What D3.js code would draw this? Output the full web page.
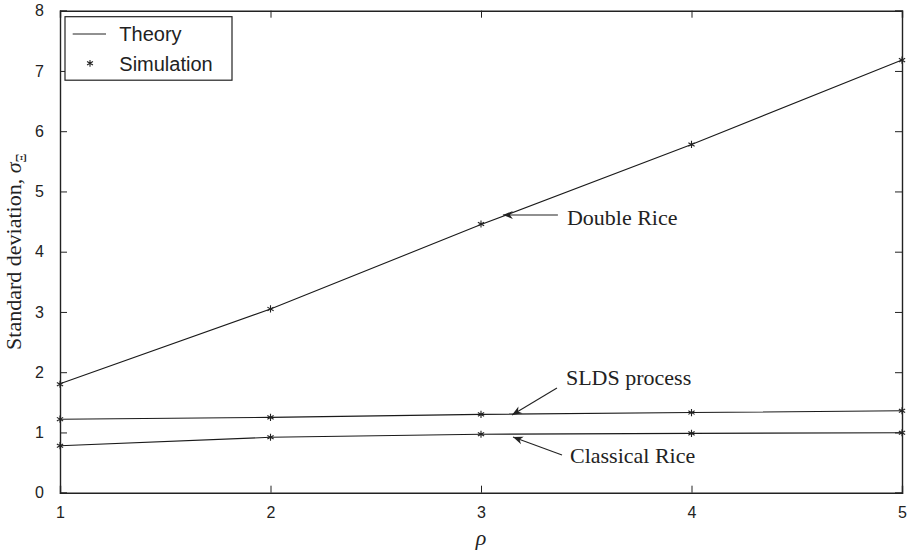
<!DOCTYPE html>
<html>
<head>
<meta charset="utf-8">
<script src="https://cdn.jsdelivr.net/npm/d3@7"></script>
<style>
  body { margin: 0; background: #fff; }
  svg { display: block; }
</style>
</head>
<body>
<div id="chart"></div>
<script>
// values
const rho = [1, 2, 3, 4, 5];
const doubleRice = [1.81, 3.05, 4.45, 5.78, 7.18];
const slds = [1.22, 1.25, 1.30, 1.33, 1.36];
const classical = [0.78, 0.92, 0.97, 0.985, 0.995];
const simDouble = [1.80, 3.05, 4.46, 5.78, 7.18];
const simSlds = [1.22, 1.25, 1.30, 1.33, 1.36];
const simClassical = [0.78, 0.92, 0.97, 0.985, 0.995];
const xTicks = [1, 2, 3, 4, 5];
const yTicks = [0, 1, 2, 3, 4, 5, 6, 7, 8];
const notes = [
    { text: "Double Rice", x: 3.104, y: 4.61 },
    { text: "SLDS process", x: 3.147, y: 1.29 },
    { text: "Classical Rice", x: 3.152, y: 0.925 }
];

const W = 907, H = 552;
const margin = { top: 10.7, right: 5, bottom: 59.3, left: 60 };
const iw = W - margin.left - margin.right;
const ih = H - margin.top - margin.bottom;

const svg = d3.select("#chart").append("svg")
    .attr("width", W)
    .attr("height", H);

const g = svg.append("g")
    .attr("transform", `translate(${margin.left},${margin.top})`);

const x = d3.scaleLinear().domain([1, 5]).range([0, iw]);
const y = d3.scaleLinear().domain([0, 8]).range([ih, 0]);

const sans = "'Liberation Sans', Arial, Helvetica, sans-serif";
const serif = "'Liberation Serif', 'Times New Roman', serif";

// axes, ticks pointing inwards on all four sides
const tk = 7;
g.append("g").attr("transform", `translate(0,${ih})`)
    .call(d3.axisBottom(x).tickValues(xTicks).tickSize(-tk).tickPadding(14).tickFormat(d3.format("d")));
g.append("g")
    .call(d3.axisTop(x).tickValues(xTicks).tickSize(-tk).tickFormat(""));
g.append("g")
    .call(d3.axisLeft(y).tickValues(yTicks).tickSize(-tk).tickPadding(16).tickFormat(d3.format("d")));
g.append("g").attr("transform", `translate(${iw},0)`)
    .call(d3.axisRight(y).tickValues(yTicks).tickSize(-tk).tickFormat(""));

g.selectAll(".domain").attr("stroke", "#222").attr("stroke-width", 1.4);
g.selectAll(".tick line").attr("stroke", "#222").attr("stroke-width", 1);
g.selectAll(".tick text")
    .attr("font-family", sans)
    .attr("font-size", 16)
    .attr("fill", "#222");

// theory curves
const line = d3.line()
    .x(d => x(d[0]))
    .y(d => y(d[1]));

[doubleRice, slds, classical].forEach(vals => {
    g.append("path")
        .datum(rho.map((r, i) => [r, vals[i]]))
        .attr("fill", "none")
        .attr("stroke", "#1a1a1a")
        .attr("stroke-width", 1.1)
        .attr("d", line);
});

// simulation markers (asterisks)
function star(sel, r) {
    sel.append("path")
        .attr("d", `M0,${-r}L0,${r}M${-r * 0.87},${-r / 2}L${r * 0.87},${r / 2}M${-r * 0.87},${r / 2}L${r * 0.87},${-r / 2}`)
        .attr("stroke", "#222")
        .attr("stroke-width", 1.1)
        .attr("fill", "none");
}

[simDouble, simSlds, simClassical].forEach(vals => {
    g.selectAll(null)
        .data(rho.map((r, i) => [r, vals[i]]))
        .enter()
        .append("g")
        .attr("transform", d => `translate(${x(d[0])},${y(d[1])})`)
        .call(star, 3.6);
});

// annotations with arrows
const defs = svg.append("defs");
defs.append("marker")
    .attr("id", "head")
    .attr("viewBox", "-10 -5 12 10")
    .attr("refX", 0).attr("refY", 0)
    .attr("markerWidth", 12).attr("markerHeight", 10)
    .attr("markerUnits", "userSpaceOnUse")
    .attr("orient", "auto")
    .append("path")
    .attr("d", "M0,0L-10,-4L-7,0L-10,4Z")
    .attr("fill", "#222");

const tails = [[55, 0, 9, 10], [45, -27, 9, -3], [49, 18, 8, 8]];
notes.forEach((n, i) => {
    const tx = x(n.x), ty = y(n.y);
    const t = tails[i];
    g.append("line")
        .attr("x1", tx + t[0]).attr("y1", ty + t[1])
        .attr("x2", tx).attr("y2", ty)
        .attr("stroke", "#222")
        .attr("stroke-width", 1.1)
        .attr("marker-end", "url(#head)");
    g.append("text")
        .attr("x", tx + t[0] + t[2])
        .attr("y", ty + t[1] + t[3])
        .attr("font-family", serif)
        .attr("font-size", 22)
        .attr("fill", "#222")
        .text(n.text);
});

// legend
const lg = g.append("g").attr("transform", "translate(5,6)");
lg.append("rect")
    .attr("width", 167).attr("height", 63.5)
    .attr("fill", "#fff")
    .attr("stroke", "#222")
    .attr("stroke-width", 1.2);
lg.append("line")
    .attr("x1", 7.7).attr("x2", 41).attr("y1", 17.3).attr("y2", 17.3)
    .attr("stroke", "#222").attr("stroke-width", 1);
lg.append("text")
    .attr("x", 54.3).attr("y", 24.5)
    .attr("font-family", sans).attr("font-size", 20).attr("fill", "#222")
    .text("Theory");
lg.append("g").attr("transform", "translate(25,46.6)").call(star, 3.4);
lg.append("text")
    .attr("x", 54.3).attr("y", 54)
    .attr("font-family", sans).attr("font-size", 20).attr("fill", "#222")
    .text("Simulation");

// axis titles
g.append("text")
    .attr("x", iw / 2).attr("y", ih + 52)
    .attr("text-anchor", "middle")
    .attr("font-family", serif)
    .attr("font-style", "italic")
    .attr("font-size", 22)
    .attr("fill", "#222")
    .text("ρ");

const yl = svg.append("text")
    .attr("transform", `translate(21,${margin.top + ih / 2}) rotate(-90)`)
    .attr("text-anchor", "middle")
    .attr("font-family", serif)
    .attr("font-size", 22)
    .attr("fill", "#222");
yl.append("tspan").text("Standard deviation, ");
yl.append("tspan").attr("font-style", "italic").text("σ");
yl.append("tspan").attr("font-size", 14).attr("dy", 5).text("Ξ");
</script>
</body>
</html>
